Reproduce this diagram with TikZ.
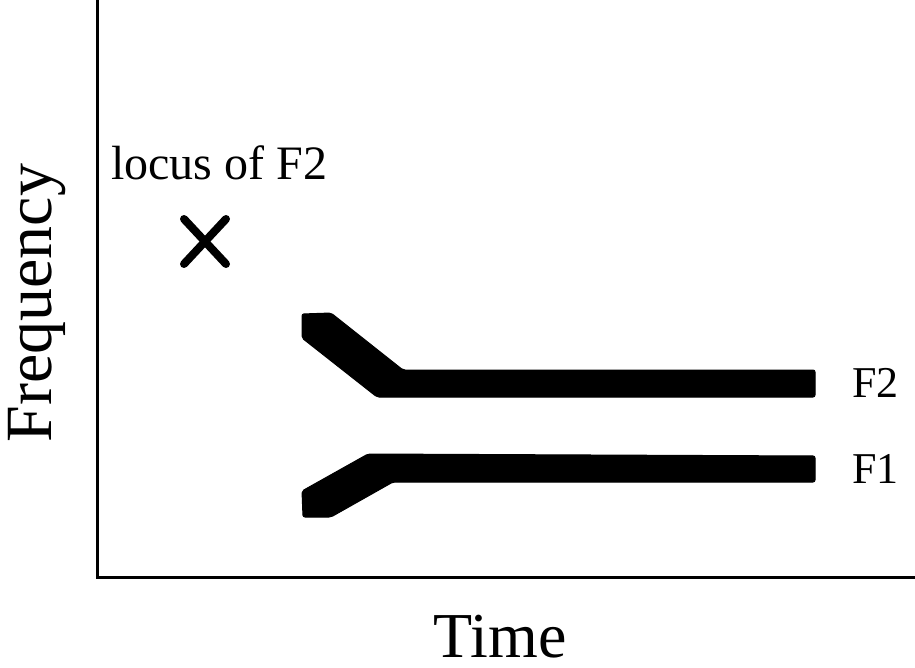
\documentclass[tikz,border=0pt]{standalone}
\usepackage{fontspec}
\setmainfont{Liberation Serif}
\begin{document}
\begin{tikzpicture}[x=1pt,y=-1pt,
  axisline/.style={line width=3pt},
  band/.style={fill=black,draw=black,line width=1pt,rounded corners=2pt},
  label/.style={inner sep=0pt,anchor=base},
  crossmark/.style={line width=8pt,line cap=round}]
  \useasboundingbox (0,0) rectangle (915,668);

  % axes
  \coordinate (top) at (97,0);
  \coordinate (origin) at (97,577);
  \coordinate (right) at (915,577);
  \draw[axisline] (top) -- (origin) -- (right);

  % axis titles
  \node[label,text depth=0pt] (time) at (500,657) {\fontsize{64}{64}\selectfont Time};
  \node[label,rotate=90] (freq) at (51,303) {\fontsize{66}{66}\selectfont Frequency};

  % locus marker
  \node[label,anchor=base west] (locus) at (111,180) {\fontsize{48}{48}\selectfont locus of F2};
  \coordinate (xa) at (184,219);
  \coordinate (xb) at (226,264);
  \coordinate (xc) at (226,219);
  \coordinate (xd) at (184,264);
  \draw[crossmark] (xa) -- (xb) (xc) -- (xd);

  % formant bands
  \fill[band] (302,314) -- (331,313) -- (403,370) -- (815,370) -- (815,397)
    -- (377,397) -- (302,338) -- cycle;
  \fill[band] (302,491) -- (368,454) -- (815,456) -- (815,482)
    -- (393,482) -- (331,517) -- (303,517) -- cycle;

  % band labels
  \node[label,anchor=base west] (f2) at (852,397) {\fontsize{44}{44}\selectfont F2};
  \node[label,anchor=base west] (f1) at (852,483) {\fontsize{44}{44}\selectfont F1};
\end{tikzpicture}
\end{document}
